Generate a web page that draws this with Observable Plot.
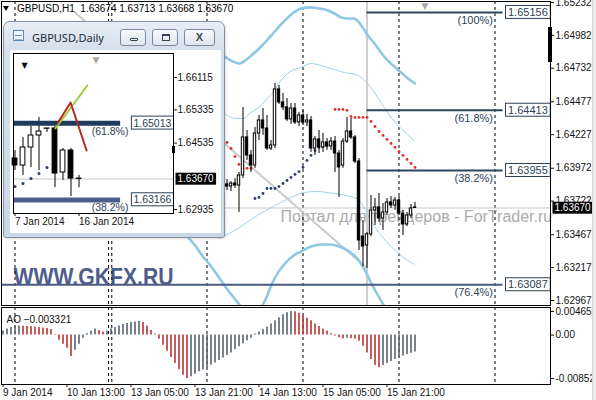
<!DOCTYPE html>
<html>
<head>
<meta charset="utf-8">
<script src="https://cdn.jsdelivr.net/npm/d3@7"></script>
<script src="https://cdn.jsdelivr.net/npm/@observablehq/plot@0.6"></script>
<style>
  html, body { margin:0; padding:0; background:#fff; }
  #wrap { position:relative; width:596px; height:400px; overflow:hidden; background:#fff; font-family:"Liberation Sans", Arial, sans-serif; }
  #main { position:absolute; left:0; top:0; }
  #ao { position:absolute; left:0; top:306px; }
  #hdr { position:absolute; left:3px; top:3px; font-size:10px; line-height:12px; color:#000; white-space:pre; }
  #hdr .tri { display:inline-block; width:0; height:0; border-left:3.5px solid transparent; border-right:3.5px solid transparent; border-top:5px solid #000; margin-right:8px; vertical-align:1px; }
  #bar { position:absolute; left:548px; top:27px; width:4px; height:35px; background:#000; }
  #edge { position:absolute; left:592px; top:0; width:4px; height:400px; background:#ededed; border-left:1px solid #d2d2d2; }
  #win { position:absolute; left:3px; top:21px; width:222px; height:217px; box-sizing:border-box; border:1px solid #8493a8; border-radius:7px 7px 3px 3px;
         background:linear-gradient(to bottom, #e7eef7 0px, #d5e0ec 28px, #cad7e6 100%); box-shadow:1px 1px 2px rgba(0,0,0,0.15); }
  #win .ico { position:absolute; left:9px; top:8px; width:9px; height:9px; border:1px solid #5f86b8; background:#eef5fc; }
  #win .ico i { position:absolute; left:1px; top:4px; width:7px; height:3px; border-top:1px solid #5f86b8; border-bottom:1px solid #9ab3d3; }
  #win .ttl { position:absolute; left:28px; top:9px; font-family:"Noto Sans", "Liberation Sans", sans-serif; font-size:11px; line-height:14px; color:#1b2636; }
  #win .btn { position:absolute; top:7px; height:17px; box-sizing:border-box; border:1px solid #7888a0; border-radius:3px; background:linear-gradient(#f7f9fc, #dfe6ef); }
  #win .gmin { position:absolute; left:9px; top:8px; width:8px; height:3px; box-sizing:border-box; border:1px solid #34445c; border-radius:1px; }
  #win .gmax { position:absolute; left:9px; top:4px; width:8px; height:7px; box-sizing:border-box; border:1px solid #34445c; border-top-width:2px; }
  #win .gx { position:absolute; left:0; right:0; top:1px; text-align:center; font-size:11px; line-height:13px; font-weight:bold; color:#3b4a62; }
  #inset { position:absolute; left:6px; top:28px; background:#fff; }
  #imark { position:absolute; left:172px; top:146px; width:3px; height:7px; background:#000; }
</style>
</head>
<body>
<div id="wrap">
  <div id="main"></div>
  <div id="ao"></div>
  <div id="hdr"></div>
  <div id="bar"></div>
  <div id="edge"></div>
  <div id="win">
    <div class="ico"><i></i></div>
    <div class="ttl" id="ttl"></div>
    <div class="btn" style="left:116px;width:26px"><b class="gmin"></b></div>
    <div class="btn" style="left:148px;width:26px"><b class="gmax"></b></div>
    <div class="btn" style="left:180px;width:31px"><span class="gx">X</span></div>
    <div id="inset"></div>
  </div>
  <div id="imark"></div>
</div>
<script>
// ---------------- DATA ----------------
const symbol = "GBPUSD";
const mainPeriod = "H1";
const insetPeriod = "Daily";

// H1 price-axis tick labels
const priceTicks = [1.65232, 1.64982, 1.64732, 1.64477, 1.64227, 1.63972, 1.63722, 1.63467, 1.63217, 1.62967];

// H1 bar index 0 = 9 Jan 21:00 ; time labels on bottom axis
const timeTickIdx = [0, 16, 32, 48, 64, 80, 96];
const timeTickLabels = ["9 Jan 2014", "10 Jan 13:00", "13 Jan 05:00", "13 Jan 21:00", "14 Jan 13:00", "15 Jan 05:00", "15 Jan 21:00"];
// day separators (bar index)
const sepIdx = [3, 26.4, 27.2, 51, 75, 99, 123];

// visible H1 candles (bar indices 56..103)
const candleIdx = d3.range(56, 104);
const hOpen  = [1.63849,1.63833,1.63856,1.63841,1.63917,1.64206,1.64069,1.63993,1.64236,1.64335,
                1.64274,1.64122,1.64145,1.64571,1.64472,1.64434,1.64343,1.64426,1.64320,1.64373,
                1.64320,1.64335,1.64122,1.64191,1.64130,1.64168,1.64137,1.64175,1.64084,1.63993,
                1.64175,1.64251,1.64206,1.64023,1.63453,1.63385,1.63469,1.63651,1.63674,1.63590,
                1.63636,1.63712,1.63689,1.63727,1.63628,1.63545,1.63613,1.63674];
const hHigh  = [1.63887,1.63871,1.63894,1.63940,1.64434,1.64259,1.64107,1.64282,1.64373,1.64426,
                1.64373,1.64183,1.64616,1.64601,1.64540,1.64502,1.64464,1.64464,1.64396,1.64411,
                1.64381,1.64365,1.64213,1.64259,1.64236,1.64198,1.64206,1.64213,1.64107,1.64198,
                1.64358,1.64350,1.64221,1.64046,1.63575,1.63484,1.63765,1.63742,1.63780,1.63704,
                1.63742,1.63757,1.63750,1.63757,1.63651,1.63636,1.63696,1.63713];
const hLow   = [1.63803,1.63795,1.63818,1.63636,1.63894,1.64031,1.63940,1.63971,1.64183,1.64221,
                1.64107,1.64107,1.64122,1.64457,1.64411,1.64327,1.64305,1.64305,1.64289,1.64297,
                1.64289,1.64092,1.64069,1.64084,1.64092,1.64107,1.64107,1.63940,1.63750,1.63971,
                1.64160,1.64191,1.64008,1.63347,1.63225,1.63211,1.63453,1.63537,1.63560,1.63499,
                1.63613,1.63666,1.63651,1.63613,1.63461,1.63529,1.63590,1.63668];
const hClose = [1.63833,1.63856,1.63841,1.63917,1.64206,1.64069,1.63993,1.64236,1.64335,1.64274,
                1.64122,1.64145,1.64571,1.64472,1.64434,1.64343,1.64426,1.64320,1.64373,1.64320,
                1.64335,1.64122,1.64191,1.64130,1.64168,1.64137,1.64175,1.64084,1.63978,1.64175,
                1.64251,1.64206,1.64023,1.63423,1.63377,1.63469,1.63651,1.63674,1.63590,1.63636,
                1.63712,1.63689,1.63727,1.63628,1.63545,1.63613,1.63666,1.63670];

// Parabolic SAR
const sarAboveIdx = [56,57,58,59,60,61,62, 83,84,85,86,87,88,89,90,91,92,93,94,95,96,97,98,99,100,101,102,103];
const sarAboveVal = [1.64168,1.64122,1.64061,1.64001,1.63971,1.63971,1.63971,
                     1.64419,1.64419,1.64419,1.64411,1.64365,1.64358,1.64358,1.64358,1.64358,1.64327,1.64289,
                     1.64251,1.64221,1.64191,1.64160,1.64130,1.64099,1.64069,1.64039,1.64008,1.63978];
const sarBelowIdx = d3.range(63, 83);
const sarBelowVal = [1.63742,1.63750,1.63780,1.63818,1.63818,1.63818,1.63833,1.63856,1.63879,1.63902,
                     1.63925,1.63947,1.63978,1.64031,1.64069,1.64107,1.64130,1.64137,1.64145,1.64160];

// Bollinger bands
const bbUpOutIdx = [54,55.75,57.5,59,61.5,63.5,65.25,67.75,69.5,71.25,73,74.5,77,79,81.25,83.25,84.5,86.25,87.75,89,90.25,91.25,93.25,95.25,97.5,99.5,101.25,103];
const bbUpOutP   = [1.64852,1.64814,1.64783,1.64768,1.64814,1.64867,1.64920,1.65004,1.65065,1.65118,1.65163,1.65186,1.65194,1.65186,1.65171,1.65141,1.65118,1.65110,1.65110,1.65080,1.65027,1.64981,1.64905,1.64821,1.64753,1.64700,1.64654,1.64616];
const bbUpInIdx  = [55,58.25,60,62,64.5,66,67.5,69.5,71.5,74.5,77,79.5,82,85.25,88.75,90.75,92.5,94.5,97,99.5,102.75];
const bbUpInP    = [1.64396,1.64350,1.64350,1.64396,1.64449,1.64502,1.64548,1.64639,1.64700,1.64738,1.64768,1.64753,1.64730,1.64700,1.64677,1.64631,1.64563,1.64472,1.64358,1.64274,1.64183];
const bbLoInIdx  = [54,57,59.5,62.75,65.75,69.5,72.5,75.25,78.25,82.75,85.75,88.75,90.25,92,94,96.5,99.5,102.75];
const bbLoInP    = [1.63438,1.63484,1.63529,1.63598,1.63651,1.63712,1.63757,1.63788,1.63795,1.63780,1.63765,1.63735,1.63674,1.63575,1.63484,1.63393,1.63309,1.63241];
const bbLoOutIdx = [43.5,45,46.5,48.25,50,51.25,53,54.5,56,57.5,59,60,62,64,65.75,67.5,69,70.75,72.5,74.5,77,80,82,84,86.25,89,90.75,92.5,94.5,96.5];
const bbLoOutP   = [1.63560,1.63499,1.63440,1.63377,1.63300,1.63256,1.63185,1.63119,1.63055,1.62997,1.62940,1.62906,1.62853,1.62891,1.62982,1.63111,1.63190,1.63256,1.63305,1.63339,1.63377,1.63392,1.63393,1.63378,1.63347,1.63271,1.63180,1.63073,1.62967,1.62861];

// Fibonacci object
const fibHighIdx = 18, fibHighPrice = 1.65156;
const fibLowIdx = 91, fibLowPrice = 1.63211;
const fibEndIdx = 125;
const fibPrices = [1.65156, 1.64413, 1.63955, 1.63087];
const fibLabels = ["(100%)", "(61.8%)", "(38.2%)", "(76.4%)"];
const fibStartIdx = [91, 91, 91, -0.375];

// Awesome Oscillator (bar 0..103)
const aoValues = [0.00080,0.00120,0.00150,0.00170,0.00180,0.00175,0.00170,0.00165,0.00160,0.00150,
  0.00140,0.00130,0.00110,-0.00010,-0.00100,-0.00180,-0.00260,-0.00420,-0.00300,-0.00180,
  -0.00060,0.00030,0.00080,0.00120,0.00090,0.00060,0.00080,0.00120,0.00150,0.00180,
  0.00210,0.00230,0.00250,0.00260,0.00270,0.00250,0.00180,0.00090,0.00020,-0.00080,
  -0.00200,-0.00320,-0.00440,-0.00560,-0.00680,-0.00790,-0.008525,-0.00820,-0.00770,-0.00720,
  -0.00680,-0.00640,-0.00590,-0.00550,-0.00500,-0.00450,-0.00400,-0.00350,-0.00290,-0.00230,
  -0.00170,-0.00110,-0.00060,0.00020,0.00060,0.00110,0.00160,0.00220,0.00280,0.00340,
  0.00400,0.00440,0.00465,0.00460,0.00430,0.00380,0.00330,0.00280,0.00220,0.00170,
  0.00120,0.00080,0.00030,-0.00020,-0.00050,-0.00070,-0.00060,-0.00070,-0.00080,-0.00120,
  -0.00220,-0.00350,-0.00480,-0.00600,-0.00640,-0.00600,-0.00560,-0.00520,-0.00480,-0.00440,
  -0.00410,-0.00380,-0.00355,-0.003321];
const aoTicks = [0.00465, 0, -0.008525];
const aoTickLabels = ["0.00465", "0.00", "-0.008525"];

// Daily inset
const dayIdx = [0,1,2,3,4,5,6,7,8];
const dOpen  = [1.64164,1.63995,1.64429,1.64718,1.64880,1.64887,1.63827,1.64357,1.63680];
const dHigh  = [1.64357,1.64670,1.64935,1.65152,1.64890,1.64935,1.64405,1.64405,1.63757];
const dLow   = [1.63875,1.63754,1.63947,1.63875,1.64790,1.63465,1.63634,1.63248,1.63461];
const dClose = [1.63995,1.64429,1.64718,1.64814,1.64887,1.63802,1.64357,1.63680,1.63670];
const dSarIdx = [0,1,2,3,4,5,6,7];
const dSarVal = [1.63489,1.63562,1.63682,1.63802,1.63947,1.64019,1.64067,1.64081];
const dTicks = [1.66115, 1.65335, 1.64535, 1.62935];
const dTimeIdx = [0, 8];
const dTimeLabels = ["7 Jan 2014", "16 Jan 2014"];
const dFibPrices = [1.65013, 1.63166];
const dFibLabels = ["(61.8%)", "(38.2%)"];
const dRedIdx = [5.3, 6.95, 8.95], dRedP = [1.65007, 1.65513, 1.64357];
const dGreenIdx = [5.05, 9.05], dGreenP = [1.64887, 1.65922];

const watermark = "Портал для трейдеров - ForTrader.ru";
const brand = "WWW.GKFX.RU";

// ---------------- BUILD ----------------
const fmt5 = d3.format(".5f");
const FONT = "Liberation Sans, Arial, sans-serif";
const pairs = (xs, ys) => xs.map((x, k) => ({i: x, p: ys[k]}));

const candles = candleIdx.map((i, k) => ({i, o: hOpen[k], h: hHigh[k], l: hLow[k], c: hClose[k]}));
const lastC = candles[candles.length - 1];
const lastClose = lastC.c;
const fibs = fibPrices.map((p, k) => ({p, pct: fibLabels[k], start: fibStartIdx[k]}));

document.getElementById("hdr").innerHTML =
  '<span class="tri"></span>' + symbol + "," + mainPeriod + "  " + [lastC.o, lastC.h, lastC.l, lastC.c].map(fmt5).join(" ");
document.getElementById("ttl").textContent = symbol + "," + insetPeriod;

const candleMarks = (data, hw) => [
  Plot.ruleX(data, {x: "i", y1: "l", y2: "h", stroke: "#000", strokeWidth: 1}),
  Plot.rect(data.filter(d => d.c >= d.o), {x1: d => d.i - hw, x2: d => d.i + hw, y1: "o", y2: "c", fill: "#fff", stroke: "#000", strokeWidth: 1}),
  Plot.rect(data.filter(d => d.c < d.o), {x1: d => d.i - hw, x2: d => d.i + hw, y1: "o", y2: "c", fill: "#000", stroke: "#000", strokeWidth: 1})
];

const bandLine = (xs, ys, stroke, w) =>
  Plot.line(pairs(xs, ys), {x: "i", y: "p", curve: "monotone-x", stroke, strokeWidth: w, clip: true});

const mainSvg = Plot.plot({
  width: 596, height: 306,
  marginLeft: 1, marginRight: 46, marginTop: 1, marginBottom: 1,
  x: {domain: [-0.375, 136.875], axis: null},
  y: {domain: [1.62929, 1.65239], axis: null},
  style: {fontFamily: FONT, fontSize: "10px", color: "#111", background: "#fff"},
  marks: [
    Plot.text([watermark], {frameAnchor: "top-left", dx: 279, dy: 209, textAnchor: "start", text: d => d, fill: "#ababab", fontSize: 16}),
    Plot.text([brand], {frameAnchor: "top-left", dx: 12, dy: 267, textAnchor: "start", text: d => d, fill: "#4f5d8a", fontSize: 23, fontWeight: "bold"}),
    Plot.ruleX(sepIdx, {x: d => d, stroke: "#000", strokeDasharray: "3,3"}),
    Plot.ruleY([lastClose], {y: d => d, stroke: "#c6c6c6"}),
    Plot.ruleX([fibLowIdx], {x: d => d, stroke: "#cfcfcf", strokeWidth: 2}),
    Plot.line([{i: fibHighIdx, p: fibHighPrice}, {i: fibLowIdx, p: fibLowPrice}], {x: "i", y: "p", stroke: "#cbcbcb", strokeWidth: 2, clip: true}),
    bandLine(bbUpOutIdx, bbUpOutP, "#8ec9e3", 2.6),
    bandLine(bbLoOutIdx, bbLoOutP, "#8ec9e3", 2.6),
    bandLine(bbUpInIdx, bbUpInP, "#9fd2e8", 1),
    bandLine(bbLoInIdx, bbLoInP, "#9fd2e8", 1),
    Plot.dot(pairs(sarAboveIdx, sarAboveVal), {x: "i", y: "p", r: 1.4, fill: "#e2302a", stroke: null}),
    Plot.dot(pairs(sarBelowIdx, sarBelowVal), {x: "i", y: "p", r: 1.4, fill: "#2a3f66", stroke: null}),
    ...candleMarks(candles, 0.3),
    Plot.ruleY(fibs.slice(0, 3), {y: "p", x1: "start", x2: () => fibEndIdx, stroke: "#2e475e", strokeWidth: 2}),
    Plot.ruleY(fibs.slice(3), {y: "p", x1: "start", x2: () => fibEndIdx, stroke: "#4a5b80", strokeWidth: 2}),
    Plot.text(fibs, {x: () => fibEndIdx, y: "p", text: "pct", textAnchor: "end", dx: -10, dy: 8, fill: "#2d4258", fontSize: 11}),
    Plot.text(fibs, {x: () => fibEndIdx, y: "p", text: d => fmt5(d.p), textAnchor: "start", dx: 5, fill: "#2d4258", fontSize: 11}),
    Plot.axisY(priceTicks, {anchor: "right", tickSize: 3, tickPadding: 2, tickFormat: fmt5, label: null}),
    Plot.text([lastClose], {y: d => d, frameAnchor: "right", textAnchor: "start", dx: 4, text: d => fmt5(d), fill: "#fff", fontSize: 10}),
    Plot.text(["▼"], {frameAnchor: "top-left", dx: 420, dy: 1, text: d => d, fill: "#a8a8a8", fontSize: 9, fontFamily: "DejaVu Sans"}),
    Plot.frame({stroke: "#000"})
  ]
});
document.getElementById("main").append(mainSvg);

const ao = aoValues.map((v, i) => ({i, v, up: i === 0 || v >= aoValues[i - 1]}));
const aoSvg = Plot.plot({
  width: 596, height: 94,
  marginLeft: 1, marginRight: 46, marginTop: 1, marginBottom: 16,
  x: {domain: [-0.375, 136.875], axis: null},
  y: {domain: [-0.009715, 0.005428], axis: null},
  style: {fontFamily: FONT, fontSize: "10px", color: "#111", background: "#fff"},
  marks: [
    Plot.ruleX(sepIdx, {x: d => d, stroke: "#000", strokeDasharray: "3,3"}),
    Plot.ruleX(ao.filter(d => d.up), {x: "i", y1: () => 0, y2: "v", stroke: "#58626f", strokeWidth: 1.6}),
    Plot.ruleX(ao.filter(d => !d.up), {x: "i", y1: () => 0, y2: "v", stroke: "#b73434", strokeWidth: 1.6}),
    Plot.axisY(aoTicks, {anchor: "right", tickSize: 3, tickPadding: 2, tickFormat: d => aoTickLabels[aoTicks.indexOf(d)], label: null}),
    Plot.axisX(timeTickIdx, {anchor: "bottom", tickSize: 3, tickPadding: 1, textAnchor: "start", tickFormat: d => timeTickLabels[timeTickIdx.indexOf(d)], label: null}),
    Plot.text([aoValues[aoValues.length - 1]], {frameAnchor: "top-left", dx: 5, dy: 8, textAnchor: "start", text: d => "AO " + d3.format(".6f")(d), fill: "#111"}),
    Plot.frame({stroke: "#000"})
  ]
});
document.getElementById("ao").append(aoSvg);

const daily = dayIdx.map((i, k) => ({i, o: dOpen[k], h: dHigh[k], l: dLow[k], c: dClose[k]}));
const dFibs = dFibPrices.map((p, k) => ({p, pct: dFibLabels[k]}));
const dLast = dClose[dClose.length - 1];
const insetSvg = Plot.plot({
  width: 211, height: 183,
  marginLeft: 3, marginRight: 48, marginTop: 3, marginBottom: 20,
  x: {domain: [-0.1875, 19.8125], axis: null},
  y: {domain: [1.62839, 1.66693], axis: null},
  style: {fontFamily: FONT, fontSize: "10px", color: "#111", background: "#fff"},
  marks: [
    Plot.ruleY([dLast], {y: d => d, stroke: "#c6c6c6"}),
    Plot.dot(pairs(dSarIdx, dSarVal), {x: "i", y: "p", r: 1.5, fill: "#2a3f66", stroke: null}),
    ...candleMarks(daily, 0.3),
    Plot.ruleY(dFibs.slice(0, 1), {y: "p", x1: () => -0.1875, x2: () => 13.2, stroke: "#1e3a5d", strokeWidth: 5, clip: true}),
    Plot.ruleY(dFibs.slice(1), {y: "p", x1: () => -0.1875, x2: () => 13.2, stroke: "#4a5c88", strokeWidth: 5, clip: true}),
    Plot.text(dFibs, {x: () => 14.3, y: "p", text: "pct", textAnchor: "end", dx: -1, dy: 8, fill: "#2d4258", fontSize: 10.5}),
    Plot.text(dFibs, {x: () => 14.3, y: "p", text: d => fmt5(d.p), textAnchor: "start", dx: 4, fill: "#2d4258", fontSize: 10.5}),
    Plot.line(pairs(dGreenIdx, dGreenP), {x: "i", y: "p", stroke: "#9ccd3a", strokeWidth: 2}),
    Plot.line(pairs(dRedIdx, dRedP), {x: "i", y: "p", stroke: "#b52a25", strokeWidth: 2}),
    Plot.axisY(dTicks, {anchor: "right", tickSize: 3, tickPadding: 1, tickFormat: fmt5, label: null}),
    Plot.text([dLast], {y: d => d, frameAnchor: "right", textAnchor: "start", dx: 4, text: d => fmt5(d), fill: "#fff", fontSize: 10}),
    Plot.axisX(dTimeIdx, {anchor: "bottom", tickSize: 3, tickPadding: 1, textAnchor: "start", tickFormat: d => dTimeLabels[dTimeIdx.indexOf(d)], label: null}),
    Plot.text(["▼"], {frameAnchor: "top-left", dx: 8, dy: 9, text: d => d, fill: "#000", fontSize: 8, fontFamily: "DejaVu Sans"}),
    Plot.text(["▼"], {frameAnchor: "top-left", dx: 79, dy: 3, text: d => d, fill: "#a8a8a8", fontSize: 9, fontFamily: "DejaVu Sans"}),
    Plot.frame({stroke: "#000"})
  ]
});
document.getElementById("inset").append(insetSvg);

// -------- label boxes (drawn behind text, sized from the text itself) --------
function boxTexts(svg, labels, fill, stroke, px, py) {
  const set = new Set(labels);
  svg.querySelectorAll("text").forEach(t => {
    if (!set.has(t.textContent)) return;
    const b = t.getBBox();
    const r = document.createElementNS("http://www.w3.org/2000/svg", "rect");
    r.setAttribute("x", b.x - px);
    r.setAttribute("y", b.y - py);
    r.setAttribute("width", b.width + 2 * px);
    r.setAttribute("height", b.height + 2 * py);
    r.setAttribute("fill", fill);
    if (stroke) { r.setAttribute("stroke", stroke); r.setAttribute("stroke-width", 1); }
    if (t.getAttribute("transform")) r.setAttribute("transform", t.getAttribute("transform"));
    t.parentNode.insertBefore(r, t);
  });
}
boxTexts(mainSvg, fibPrices.map(fmt5), "#fff", "#2d4258", 2.5, 0.5);
boxTexts(mainSvg, [fmt5(lastClose)], "#000", null, 2, 0.5);
boxTexts(insetSvg, dFibPrices.map(fmt5), "#fff", "#2d4258", 2, 0.5);
boxTexts(insetSvg, [fmt5(dLast)], "#000", null, 2, 0.5);

mainSvg.querySelectorAll("text").forEach(t => {
  if (t.textContent === brand) { t.setAttribute("textLength", 160); t.setAttribute("lengthAdjust", "spacingAndGlyphs"); }
});
</script>
</body>
</html>
